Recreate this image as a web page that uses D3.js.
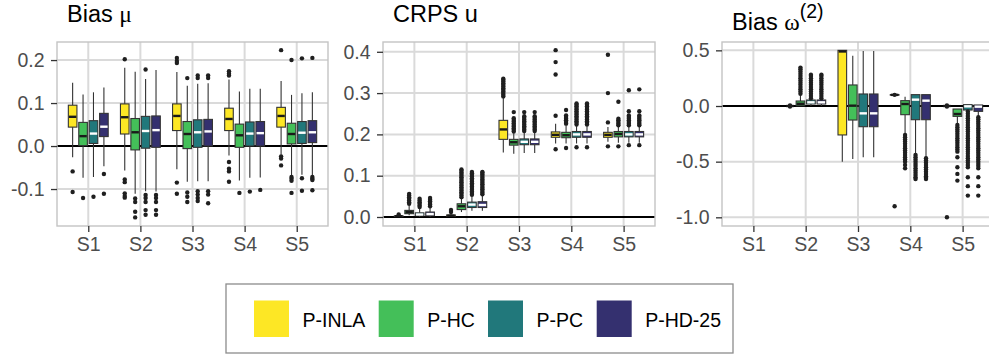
<!DOCTYPE html>
<html>
<head>
<meta charset="utf-8">
<script src="https://cdn.jsdelivr.net/npm/d3@7"></script>
<style>
  html, body { margin: 0; padding: 0; background: #ffffff; }
  svg { display: block; font-family: "Liberation Sans", Arial, Helvetica, sans-serif; }
</style>
</head>
<body>
<svg id="chart" width="989" height="354"></svg>
<script>
// Scenarios on the x axis and the four compared methods
const scenarios = ["S1", "S2", "S3", "S4", "S5"];
const methods = ["P-INLA", "P-HC", "P-PC", "P-HD-25"];
const methodFills = ["#FDE725", "#44BF59", "#21787B", "#34306F"];
const medianColors = ["#1a1a1a", "#1a1a1a", "#ffffff", "#ffffff"];

// Tick values per panel
const biasMuTicks = [-0.1, 0.0, 0.1, 0.2];
const crpsTicks = [0.0, 0.1, 0.2, 0.3, 0.4];
const biasOmegaTicks = [-1.0, -0.5, 0.0, 0.5];

// Box statistics: one row per scenario, one [lower whisker, Q1, median, Q3, upper whisker] per method
const biasMuStats = [
  [[-0.026, 0.044, 0.068, 0.095, 0.147], [-0.074, 0.001, 0.023, 0.055, 0.120], [-0.072, 0.006, 0.029, 0.059, 0.125], [-0.047, 0.022, 0.045, 0.076, 0.136]],
  [[-0.057, 0.028, 0.067, 0.098, 0.182], [-0.111, -0.009, 0.032, 0.064, 0.173], [-0.105, -0.005, 0.035, 0.069, 0.156], [-0.106, -0.003, 0.037, 0.070, 0.177]],
  [[-0.054, 0.036, 0.070, 0.098, 0.172], [-0.083, -0.006, 0.028, 0.057, 0.140], [-0.082, -0.003, 0.032, 0.061, 0.145], [-0.082, 0.000, 0.034, 0.062, 0.146]],
  [[-0.022, 0.036, 0.063, 0.088, 0.155], [-0.080, -0.003, 0.025, 0.051, 0.127], [-0.074, 0.000, 0.029, 0.056, 0.133], [-0.073, 0.000, 0.030, 0.057, 0.133]],
  [[-0.020, 0.044, 0.070, 0.090, 0.151], [-0.068, 0.005, 0.028, 0.053, 0.119], [-0.067, 0.006, 0.031, 0.057, 0.123], [-0.068, 0.008, 0.032, 0.059, 0.125]]
];
const biasMuOutliers = [
  [[-0.059, -0.107], [-0.121], [-0.118], [-0.065, -0.111]],
  [[0.202, -0.078, -0.084, -0.110, -0.116, -0.120], [-0.122, -0.130, -0.153, -0.166], [0.178, -0.114, -0.121, -0.130, -0.149, -0.160], [-0.114, -0.121, -0.130, -0.149, -0.160]],
  [[0.205, 0.198, 0.193, -0.085, -0.111], [0.158, -0.108, -0.118, -0.130], [0.164, 0.158, -0.105, -0.113, -0.121, -0.128], [0.164, 0.158, -0.105, -0.113, -0.133]],
  [[0.174, 0.168, 0.164, -0.037, -0.053, -0.059, -0.083], [-0.109], [-0.106], [-0.102]],
  [[0.223, -0.024, -0.029, -0.045], [0.200, -0.072, -0.076, -0.081, -0.109], [0.204, -0.075, -0.104], [0.205, -0.072, -0.076, -0.079, -0.103]]
];

const crpsStats = [
  [[0.000, 0.001, 0.002, 0.003, 0.005], [0.004, 0.008, 0.012, 0.016, 0.028], [0.000, 0.003, 0.006, 0.010, 0.020], [0.000, 0.003, 0.007, 0.012, 0.022]],
  [[0.000, 0.002, 0.003, 0.005, 0.008], [0.012, 0.018, 0.026, 0.032, 0.045], [0.015, 0.023, 0.030, 0.036, 0.050], [0.015, 0.023, 0.029, 0.037, 0.052]],
  [[0.156, 0.188, 0.212, 0.234, 0.288], [0.153, 0.174, 0.181, 0.188, 0.203], [0.155, 0.175, 0.182, 0.189, 0.204], [0.155, 0.175, 0.182, 0.189, 0.204]],
  [[0.178, 0.193, 0.199, 0.206, 0.226], [0.178, 0.192, 0.198, 0.205, 0.222], [0.178, 0.193, 0.200, 0.207, 0.220], [0.178, 0.193, 0.200, 0.207, 0.220]],
  [[0.182, 0.193, 0.199, 0.205, 0.218], [0.180, 0.194, 0.201, 0.207, 0.218], [0.180, 0.194, 0.200, 0.207, 0.218], [0.180, 0.194, 0.200, 0.207, 0.218]]
];
const crpsOutliers = [
  [[0.006],
   [0.032, 0.036, 0.040, 0.044, 0.048, 0.052, 0.056],
   [0.024, 0.028, 0.032, 0.036, 0.040, 0.044],
   [0.026, 0.030, 0.034, 0.038, 0.042, 0.046]],
  [[0.012, 0.017],
   [0.048, 0.052, 0.056, 0.060, 0.064, 0.068, 0.072, 0.076, 0.080, 0.084, 0.088, 0.092, 0.096, 0.100, 0.104, 0.108, 0.112, 0.115],
   [0.054, 0.058, 0.062, 0.066, 0.070, 0.074, 0.078, 0.082, 0.086, 0.090, 0.094, 0.098, 0.102, 0.106, 0.109],
   [0.055, 0.059, 0.063, 0.067, 0.071, 0.075, 0.079, 0.083, 0.087, 0.091, 0.095, 0.099, 0.103, 0.107, 0.109]],
  [[0.292, 0.296, 0.300, 0.304, 0.308, 0.312, 0.316, 0.320, 0.324, 0.328, 0.332, 0.335],
   [0.207, 0.211, 0.215, 0.219, 0.223, 0.227, 0.231, 0.235, 0.239, 0.254],
   [0.208, 0.212, 0.216, 0.220, 0.224, 0.228, 0.232, 0.236, 0.240, 0.244, 0.254],
   [0.208, 0.212, 0.216, 0.220, 0.224, 0.228, 0.232, 0.236, 0.240, 0.244, 0.254]],
  [[0.164, 0.245, 0.345, 0.375, 0.404],
   [0.167, 0.226, 0.230, 0.234, 0.238, 0.242, 0.246, 0.259],
   [0.169, 0.224, 0.228, 0.232, 0.236, 0.240, 0.244, 0.248, 0.252, 0.256, 0.260, 0.264, 0.268, 0.272, 0.275],
   [0.169, 0.224, 0.228, 0.232, 0.236, 0.240, 0.244, 0.248, 0.252, 0.256, 0.260, 0.264, 0.268, 0.272, 0.275]],
  [[0.171, 0.229, 0.300, 0.393],
   [0.171, 0.222, 0.226, 0.230, 0.234, 0.238, 0.279],
   [0.174, 0.222, 0.226, 0.230, 0.234, 0.238, 0.242, 0.246, 0.256, 0.307],
   [0.174, 0.222, 0.226, 0.230, 0.234, 0.238, 0.242, 0.246, 0.256, 0.309]]
];

const biasOmegaStats = [
  [null, null, null, null],
  [[0.000, 0.000, 0.000, 0.000, 0.000], [0.000, 0.002, 0.020, 0.045, 0.100], [0.000, 0.018, 0.033, 0.054, 0.060], [0.000, 0.018, 0.033, 0.054, 0.060]],
  [[-0.500, -0.260, 0.490, 0.500, 0.500], [-0.476, -0.126, 0.003, 0.189, 0.452], [-0.461, -0.186, -0.066, 0.108, 0.494], [-0.461, -0.186, -0.066, 0.108, 0.494]],
  [[0.095, 0.097, 0.100, 0.103, 0.105], [-0.250, -0.078, 0.018, 0.048, 0.084], [-0.430, -0.123, 0.057, 0.102, 0.102], [-0.460, -0.123, 0.048, 0.102, 0.102]],
  [[0.000, 0.000, 0.000, 0.000, 0.000], [-0.162, -0.093, -0.072, -0.027, -0.027], [-0.040, -0.036, -0.003, 0.012, 0.012], [-0.090, -0.048, -0.006, 0.009, 0.009]]
];
const biasOmegaOutliers = [
  [[], [], [], []],
  [[0.004, -0.004],
   [0.11, 0.13, 0.15, 0.17, 0.19, 0.21, 0.23, 0.25, 0.27, 0.29, 0.31, 0.33, 0.345],
   [0.07, 0.09, 0.11, 0.13, 0.15, 0.17, 0.19, 0.21, 0.23, 0.25, 0.27, 0.281],
   [0.07, 0.09, 0.11, 0.13, 0.15, 0.17, 0.19, 0.21, 0.23, 0.25, 0.27, 0.281]],
  [[], [], [], []],
  [[0.100, -0.900],
   [-0.26, -0.28, -0.30, -0.32, -0.34, -0.36, -0.38, -0.40, -0.42, -0.44, -0.46, -0.48, -0.50, -0.53, -0.56],
   [-0.44, -0.46, -0.48, -0.50, -0.52, -0.54, -0.56, -0.58, -0.60, -0.62, -0.64, -0.656],
   [-0.47, -0.49, -0.51, -0.53, -0.55, -0.57, -0.59, -0.61, -0.63, -0.645, -0.656]],
  [[0.004, -0.004, -1.000],
   [-0.17, -0.19, -0.21, -0.23, -0.25, -0.27, -0.29, -0.31, -0.33, -0.35, -0.37, -0.39, -0.41, -0.46, -0.55, -0.61, -0.67],
   [-0.05, -0.07, -0.09, -0.11, -0.13, -0.15, -0.17, -0.19, -0.21, -0.23, -0.25, -0.27, -0.29, -0.31, -0.33, -0.35, -0.37, -0.39, -0.41, -0.43, -0.45, -0.47, -0.49, -0.51, -0.53, -0.55, -0.64, -0.72, -0.805],
   [-0.10, -0.12, -0.14, -0.16, -0.18, -0.20, -0.22, -0.24, -0.26, -0.28, -0.30, -0.32, -0.34, -0.36, -0.38, -0.40, -0.42, -0.44, -0.46, -0.48, -0.50, -0.52, -0.54, -0.56, -0.64, -0.72, -0.805]]
];

const svg = d3.select("#chart");
const plotTop = 42, plotBottom = 226;
const sansFont = "'Liberation Sans', Arial, sans-serif";
const serifFont = "'Liberation Serif', 'DejaVu Serif', serif";

const panels = [
  { left: 57, right: 328, domain: [-0.186, 0.242], ticks: biasMuTicks, stats: biasMuStats, outliers: biasMuOutliers,
    title: [{ t: "Bias ", serif: false }, { t: "\u03bc", serif: true }], titleY: 22.3 },
  { left: 383, right: 655, domain: [-0.0218, 0.4237], ticks: crpsTicks, stats: crpsStats, outliers: crpsOutliers,
    title: [{ t: "CRPS u", serif: false }], titleY: 22.3 },
  { left: 722, right: 994, domain: [-1.078, 0.575], ticks: biasOmegaTicks, stats: biasOmegaStats, outliers: biasOmegaOutliers,
    title: [{ t: "Bias ", serif: false }, { t: "\u03c9", serif: true }], sup: "(2)", titleY: 30 }
];

panels.forEach(p => {
  const g = svg.append("g");
  const x = d3.scalePoint().domain(scenarios).range([p.left, p.right]).padding(0.6);
  const y = d3.scaleLinear().domain(p.domain).range([plotBottom, plotTop]);
  const step = x.step();
  const dodge = j => (j - 1.5) * 0.2 * step;
  const bw = 0.165 * step;

  // background grid
  g.append("g").selectAll("line").data(p.ticks).join("line")
    .attr("x1", p.left).attr("x2", p.right)
    .attr("y1", d => y(d)).attr("y2", d => y(d))
    .attr("stroke", "#DADADA").attr("stroke-width", 2);
  g.append("g").selectAll("line").data(scenarios).join("line")
    .attr("x1", d => x(d)).attr("x2", d => x(d))
    .attr("y1", plotTop).attr("y2", plotBottom)
    .attr("stroke", "#DADADA").attr("stroke-width", 2);

  // reference line at zero
  g.append("line")
    .attr("x1", p.left).attr("x2", p.right)
    .attr("y1", y(0)).attr("y2", y(0))
    .attr("stroke", "#000").attr("stroke-width", 2);

  // boxes
  const boxes = [];
  scenarios.forEach((s, i) => {
    methods.forEach((m, j) => {
      const st = p.stats[i][j];
      if (!st) return;
      boxes.push({ cx: x(s) + dodge(j), st, j, out: p.outliers[i][j] });
    });
  });
  const bg = g.append("g");
  boxes.forEach(b => {
    const [lo, q1, med, q3, hi] = b.st;
    const bb = bg.append("g");
    bb.append("line").attr("x1", b.cx).attr("x2", b.cx).attr("y1", y(hi)).attr("y2", y(q3))
      .attr("stroke", "#333").attr("stroke-width", 1.1);
    bb.append("line").attr("x1", b.cx).attr("x2", b.cx).attr("y1", y(q1)).attr("y2", y(lo))
      .attr("stroke", "#333").attr("stroke-width", 1.1);
    bb.append("rect").attr("x", b.cx - bw / 2).attr("width", bw)
      .attr("y", y(q3)).attr("height", Math.max(0, y(q1) - y(q3)))
      .attr("fill", methodFills[b.j]).attr("stroke", "#333").attr("stroke-width", 1.1);
    bb.append("line").attr("x1", b.cx - bw / 2 + 0.6).attr("x2", b.cx + bw / 2 - 0.6)
      .attr("y1", y(med)).attr("y2", y(med))
      .attr("stroke", medianColors[b.j]).attr("stroke-width", 2.4);
    bb.selectAll("circle").data(b.out).join("circle")
      .attr("cx", b.cx).attr("cy", d => y(d)).attr("r", 2.2)
      .attr("fill", "#1f1f1f");
  });

  // panel border
  g.append("rect").attr("x", p.left).attr("y", plotTop)
    .attr("width", p.right - p.left).attr("height", plotBottom - plotTop)
    .attr("fill", "none").attr("stroke", "#C4C4C4").attr("stroke-width", 1.4);

  // axes
  const ya = g.append("g").attr("transform", `translate(${p.left},0)`)
    .call(d3.axisLeft(y).tickValues(p.ticks).tickSize(6).tickPadding(6.5).tickFormat(d => d.toFixed(1)));
  const xa = g.append("g").attr("transform", `translate(0,${plotBottom})`)
    .call(d3.axisBottom(x).tickSize(6).tickPadding(5.5));
  [ya, xa].forEach(a => {
    a.select(".domain").remove();
    a.selectAll(".tick line").attr("stroke", "#333").attr("stroke-width", 1.3);
    a.selectAll(".tick text").attr("fill", "#4D4D4D").attr("font-size", 19.5)
      .attr("font-family", sansFont);
  });

  // title
  const t = g.append("text").attr("x", p.left + 10).attr("y", p.titleY)
    .attr("font-size", 23.5).attr("fill", "#000");
  p.title.forEach(part => {
    t.append("tspan").text(part.t).attr("font-family", part.serif ? serifFont : sansFont);
  });
  if (p.sup) {
    t.append("tspan").text(p.sup).attr("font-size", 19.5).attr("dy", -12.5)
      .attr("font-family", sansFont);
  }
});

// legend
const legend = svg.append("g");
legend.append("rect").attr("x", 226).attr("y", 284).attr("width", 507).attr("height", 69)
  .attr("fill", "#fff").attr("stroke", "#8C8C8C").attr("stroke-width", 1.3);
const keyX = [254, 378.7, 488, 596.7];
methods.forEach((m, j) => {
  legend.append("rect").attr("x", keyX[j]).attr("y", 300.5).attr("width", 35).attr("height", 36.5)
    .attr("fill", methodFills[j]);
  legend.append("text").attr("x", keyX[j] + 48.5).attr("y", 326.5)
    .attr("font-size", 19.5).attr("fill", "#000").attr("font-family", sansFont).text(m);
});
</script>
</body>
</html>
